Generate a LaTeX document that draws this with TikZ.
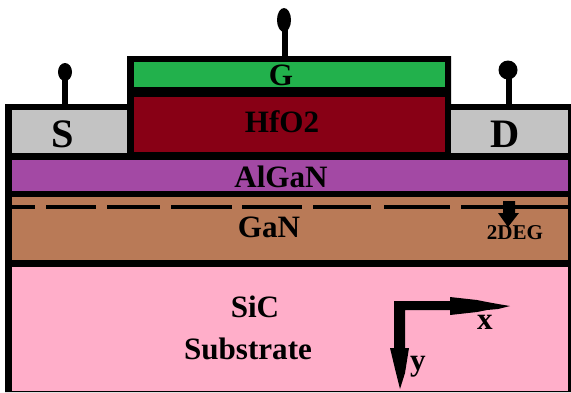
\documentclass[tikz,border=0pt]{standalone}
\usepackage{xcolor}
\usepackage{fontspec}
\setmainfont{Liberation Serif}
\definecolor{gatecol}{HTML}{22B14C}
\definecolor{oxidecol}{HTML}{880015}
\definecolor{contactcol}{HTML}{C3C3C3}
\definecolor{algancol}{HTML}{A349A4}
\definecolor{gancol}{HTML}{B97A57}
\definecolor{siccol}{HTML}{FFAEC9}
\tikzset{
  lbl/.style={inner sep=0pt, font=\bfseries\fontsize{17.7}{20}\selectfont},
  stem/.style={line width=3.4pt},
  twodeg/.style={line width=2.3pt}
}

\begin{document}
\begin{tikzpicture}[x=0.02cm,y=-0.02cm]
                \useasboundingbox (0,0) rectangle (571,392);

                % Body
                \fill (5,392) -- (5,104) -- (127,104) -- (127,56) -- (451,56) -- (451,104) -- (571,104) -- (571,392) -- cycle;

                % Layers
                \fill[contactcol] (12,110) rectangle (127,153);
                \fill[contactcol] (451,110) rectangle (568,153);
                \fill[gatecol] (134,62) rectangle (445,87);
                \fill[oxidecol] (134,97) rectangle (445,152);
                \fill[algancol] (12,160) rectangle (568,191);
                \fill[gancol] (12,197) rectangle (568,260);
                \fill[siccol] (12,267) rectangle (568,391);

                % Terminals
                \draw[stem] (65,72) -- (65,104);
                \fill (65,72) ellipse (7 and 9);
                \draw[stem] (285,20) -- (285,56);
                \fill (284,20) ellipse (7 and 12);
                \draw[stem] (509,70) -- (509,104);
                \fill (508,70) circle (9.5);

                % 2DEG line
                \draw[twodeg] (12,207) -- (35,207) (46,207) -- (96,207) (107,207) -- (160,207) (171,207) -- (232,207)
                    (242,207) -- (302,207) (313,207) -- (371,207) (384,207) -- (450,207) (461,207) -- (568,207);
                \fill (503,201) -- (515,201) -- (515,213) -- (519,213) -- (508,227) -- (498,213) -- (503,213) -- cycle;

                % Axes
                \fill (394,301) -- (450,301) -- (450,297) -- (477,300) -- (487,302) -- (498,304) -- (510,306) -- (498,309) -- (487,310)
                    -- (477,312) -- (450,315) -- (450,310) -- (405,310) -- (405,348) -- (409,348) -- (405,373) -- (400,389)
                    -- (396,373) -- (390,348) -- (394,348) -- cycle;

                % Labels
                \node[lbl, font=\bfseries\fontsize{23}{25}\selectfont] (source) at (63,134) {S};
                \node[lbl, font=\bfseries\fontsize{23}{25}\selectfont] (drain) at (505,134) {D};
                \node[lbl] (gate) at (281,75) {G};
                \node[lbl] (oxide) at (282,122) {HfO2};
                \node[lbl] (algan) at (281,177) {AlGaN};
                \node[lbl] (gan) at (269,227) {GaN};
                \node[lbl] (sic) at (255,307) {SiC};
                \node[lbl] (substrate) at (248,349) {Substrate};
                \node[lbl, font=\bfseries\fontsize{12}{14}\selectfont] (deg) at (515,233) {2DEG};
                \node[lbl] (xaxis) at (485,322) {x};
                \node[lbl] (yaxis) at (418,367) {y};
        \end{tikzpicture}
\end{document}
